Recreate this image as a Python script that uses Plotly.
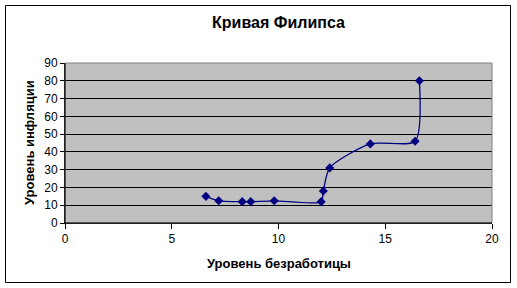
import plotly.graph_objects as go

unemployment = [6.6, 7.2, 8.3, 8.7, 9.8, 12.0, 12.1, 12.4, 14.3, 16.4, 16.6]
inflation = [15, 12.5, 12, 12, 12.5, 12, 18, 31, 44.5, 46, 80]
x_ticks = [0, 5, 10, 15, 20]
y_ticks = [0, 10, 20, 30, 40, 50, 60, 70, 80, 90]

title_text = "Кривая Филипса"
x_title = "Уровень безработицы"
y_title = "Уровень инфляции"

FONT = "Arial, Liberation Sans, sans-serif"
W, H = 517, 288
L, R, T, B = 65, 25, 63, 65
pw, ph = W - L - R, H - T - B

def px_x(px):
    return (px - L) / pw

def px_y(py):
    return (H - B - py) / ph

fig = go.Figure()
fig.add_trace(go.Scatter(
    x=unemployment, y=inflation, mode="lines+markers",
    line=dict(color="#000080", width=1.3, shape="spline", smoothing=0.7),
    marker=dict(symbol="diamond", size=7, color="#000080"),
    showlegend=False, hoverinfo="skip",
))

fig.update_layout(
    width=W, height=H,
    margin=dict(l=L, r=R, t=T, b=B, autoexpand=False),
    paper_bgcolor="white", plot_bgcolor="#C0C0C0",
    font=dict(family=FONT, size=12, color="black"),
    title=dict(text="<b>" + title_text + "</b>", x=0.5, xanchor="center",
               xref="paper", y=1 - 22 / H, yanchor="middle", yref="container",
               font=dict(size=16, family=FONT, color="black")),
    xaxis=dict(range=[0, 20], tickvals=x_ticks, showgrid=False, zeroline=False,
               showline=True, linecolor="black", linewidth=1,
               ticks="outside", ticklen=5, tickcolor="black",
               tickfont=dict(size=12, color="black")),
    yaxis=dict(range=[0, 90], tickvals=y_ticks, showgrid=True, gridcolor="black",
               gridwidth=1, zeroline=False,
               showline=True, linecolor="black", linewidth=1,
               ticks="outside", ticklen=4, tickcolor="black",
               tickfont=dict(size=12, color="black")),
    shapes=[
        dict(type="rect", xref="paper", yref="paper", x0=0, x1=1, y0=0, y1=1,
             line=dict(color="#808080", width=1), layer="above"),
        dict(type="line", xref="paper", yref="paper", x0=0, x1=1, y0=0, y1=0,
             line=dict(color="black", width=1), layer="above"),
        dict(type="line", xref="paper", yref="paper", x0=0, x1=0, y0=0, y1=1,
             line=dict(color="black", width=1), layer="above"),
        dict(type="rect", xref="paper", yref="paper",
             x0=px_x(5.5), x1=px_x(510.5), y0=px_y(282.5), y1=px_y(5.5),
             line=dict(color="black", width=1)),
    ],
    annotations=[
        dict(text="<b>" + x_title + "</b>", xref="paper", yref="paper",
             x=0.5, y=px_y(263), xanchor="center", yanchor="middle",
             showarrow=False, font=dict(size=13, family=FONT, color="black")),
        dict(text="<b>" + y_title + "</b>", xref="paper", yref="paper",
             x=px_x(29), y=0.5, xanchor="center", yanchor="middle", textangle=-90,
             showarrow=False, font=dict(size=13, family=FONT, color="black")),
    ],
)

fig.write_html("out.html")
